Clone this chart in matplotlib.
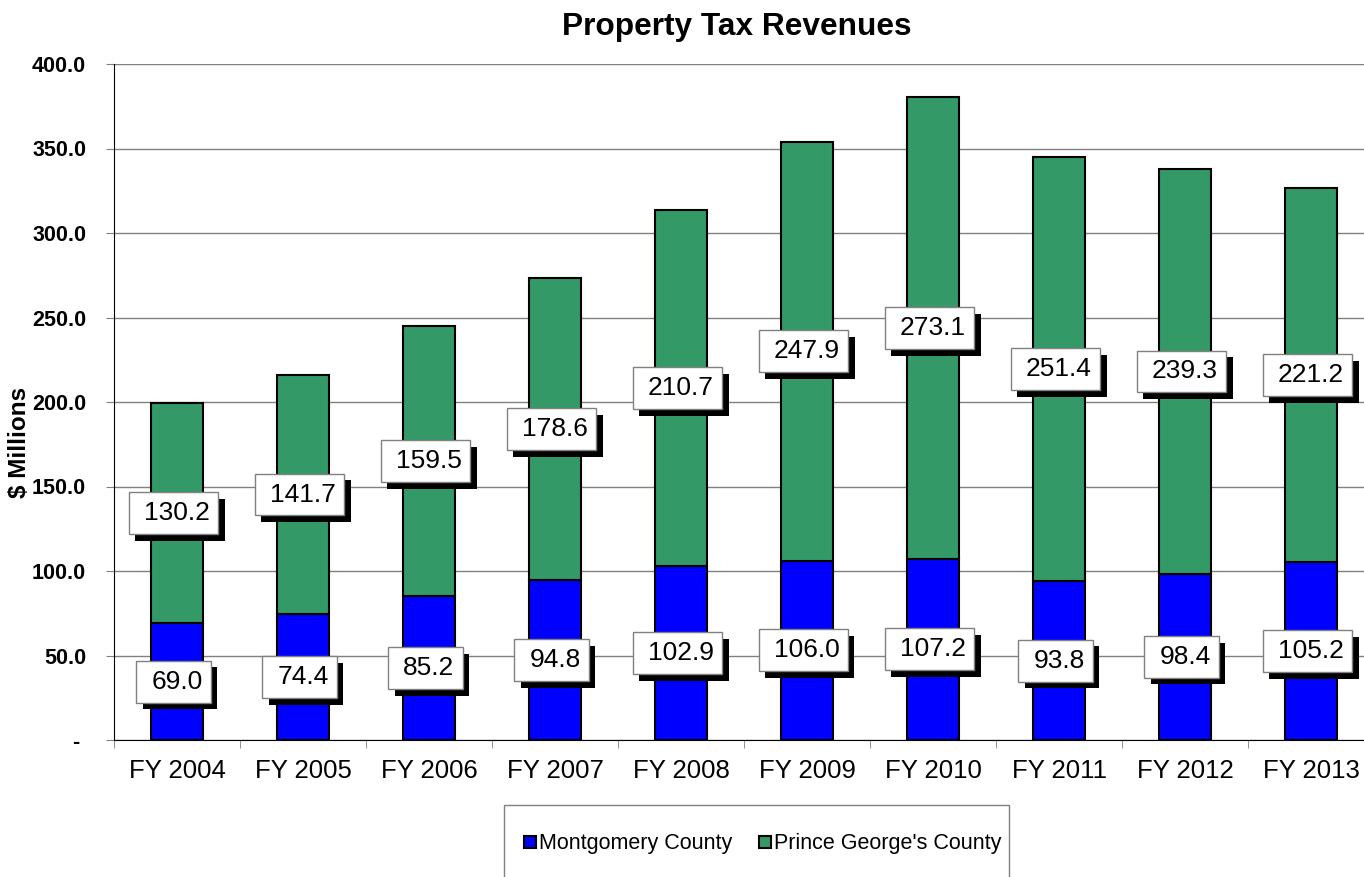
import numpy as np
import matplotlib
matplotlib.use("Agg")
import matplotlib.pyplot as plt
import matplotlib.patheffects as pe
from matplotlib.path import Path
from matplotlib.patches import Rectangle
from matplotlib.lines import Line2D
from matplotlib.ticker import FuncFormatter, MultipleLocator

plt.rcParams['font.family'] = ['Liberation Sans', 'DejaVu Sans']

years = ["FY 2004", "FY 2005", "FY 2006", "FY 2007", "FY 2008",
         "FY 2009", "FY 2010", "FY 2011", "FY 2012", "FY 2013"]
montgomery = [69.0, 74.4, 85.2, 94.8, 102.9, 106.0, 107.2, 93.8, 98.4, 105.2]
prince_georges = [130.2, 141.7, 159.5, 178.6, 210.7, 247.9, 273.1, 251.4, 239.3, 221.2]

blue = "#0000FF"
green = "#339966"


def label_box(x0, y0, width, height, mutation_size):
    # excel-style data label box: more room on the left than on the right
    l = 0.58 * mutation_size
    r = 0.30 * mutation_size
    v = 0.34 * mutation_size
    xa, xb = x0 - l, x0 + width + r
    ya, yb = y0 - v, y0 + height + v
    return Path([(xa, ya), (xb, ya), (xb, yb), (xa, yb), (xa, ya)],
                closed=True)


W, H = 1364, 877
fig = plt.figure(figsize=(W / 100, H / 100), dpi=100)
ax = fig.add_axes([114 / W, (H - 740) / H, 1260 / W, 676 / H])

x = np.arange(len(years))
mc = np.array(montgomery)
pg = np.array(prince_georges)

ax.bar(x, mc, width=0.41, color=blue, edgecolor="black", linewidth=1.5, zorder=3)
ax.bar(x, pg, width=0.41, bottom=mc, color=green, edgecolor="black",
       linewidth=1.5, zorder=3)

# value labels centred in each segment, box with a black drop shadow
shadow = [pe.SimplePatchShadow(offset=(4.8, -4.8), shadow_rgbFace="black", alpha=1),
          pe.Normal()]
for vals, base in [(mc, np.zeros_like(mc)), (pg, mc)]:
    for i, v in enumerate(vals):
        t = ax.text(x[i], base[i] + v / 2, f"{v:.1f}", ha="center", va="center",
                    fontsize=19, color="black", zorder=5,
                    bbox=dict(boxstyle=label_box, fc="white", ec="#808080", lw=1))
        t.get_bbox_patch().set_path_effects(shadow)

ax.set_xlim(-0.5, len(years) - 0.5)
ax.set_ylim(0, 400)
ax.yaxis.set_major_locator(MultipleLocator(50))
ax.yaxis.set_major_formatter(FuncFormatter(lambda v, p: "- " if v == 0 else f"{v:.1f}"))
ax.grid(axis="y", color="#808080", linewidth=1, zorder=0)
ax.set_axisbelow(True)

ax.set_xticks(x)
ax.set_xticklabels(years, fontsize=18.5)
ax.set_xticks(np.arange(-0.5, len(years)), minor=True)
ax.tick_params(axis="x", which="major", length=0, pad=14)
ax.tick_params(axis="x", which="minor", length=6, color="#808080", direction="out")
ax.tick_params(axis="y", length=6, color="#808080", direction="out", pad=14,
               labelsize=15.5)
for lab in ax.get_yticklabels():
    lab.set_fontweight("bold")

for s in ["top", "right"]:
    ax.spines[s].set_visible(False)
ax.spines["left"].set_color("black")
ax.spines["bottom"].set_color("black")

fig.text(737 / W, 1 - 27 / H, "Property Tax Revenues", ha="center", va="center",
         fontsize=22.8, fontweight="bold")
fig.text(20 / W, 1 - 442 / H, "$ Millions", ha="center", va="center",
         rotation=90, fontsize=17.5, fontweight="bold")

# legend frame runs off the bottom edge
fig.patches.append(Rectangle((504 / W, -0.05), 505 / W, (H - 805) / H + 0.05,
                             transform=fig.transFigure, fc="white", ec="#808080",
                             lw=1, zorder=0))
handles = [Line2D([], [], marker="s", ls="none", markersize=8, markerfacecolor=blue,
                  markeredgecolor="black", markeredgewidth=1.5),
           Line2D([], [], marker="s", ls="none", markersize=8, markerfacecolor=green,
                  markeredgecolor="black", markeredgewidth=1.5)]
fig.legend(handles, ["Montgomery County", "Prince George's County"], ncol=2,
           loc="center", bbox_to_anchor=(763 / W, 1 - 844 / H), frameon=False,
           fontsize=15.5, handlelength=0.5, handletextpad=0.15, columnspacing=1.3)

fig.savefig("out.png", dpi=100)
